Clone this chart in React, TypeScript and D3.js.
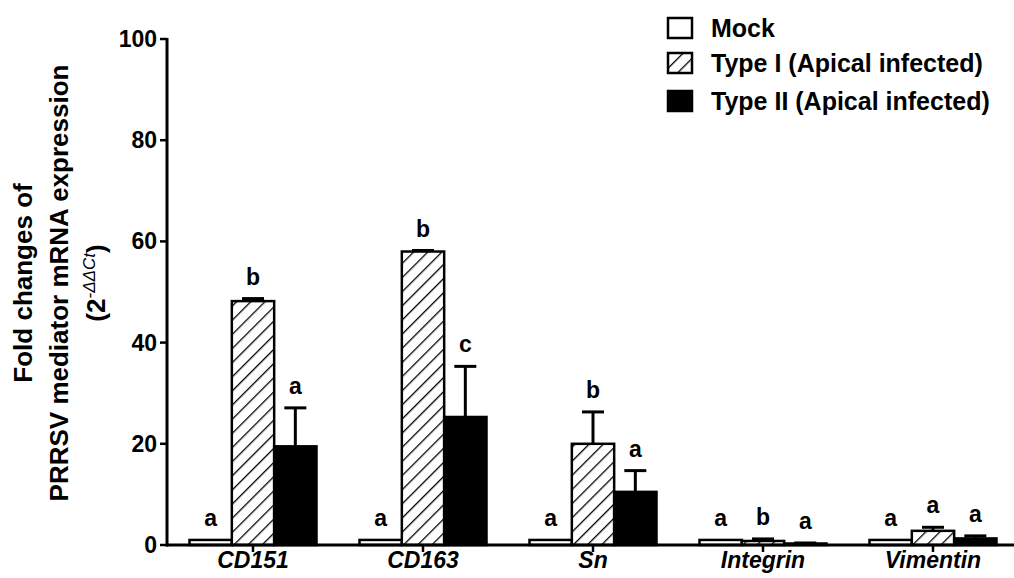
import React from "react";
import * as d3 from "d3";

const genes = ["CD151", "CD163", "Sn", "Integrin", "Vimentin"];
const seriesNames = ["Mock", "Type I (Apical infected)", "Type II (Apical infected)"];
const mockVals = [1, 1, 1, 1, 1];
const typeIVals = [48.2, 58.0, 20.0, 0.8, 2.8];
const typeIIVals = [19.5, 25.3, 10.5, 0.3, 1.3];
const mockErr = [0, 0, 0, 0, 0];
const typeIErr = [0.5, 0.2, 6.3, 0.4, 0.7];
const typeIIErr = [7.6, 10.0, 4.2, 0.1, 0.5];
const mockLetters = ["a", "a", "a", "a", "a"];
const typeILetters = ["b", "b", "b", "b", "a"];
const typeIILetters = ["a", "c", "a", "a", "a"];
const yTicks = [0, 20, 40, 60, 80, 100];

const W = 1014, H = 578;
const margin = { left: 167, right: 0, top: 39, bottom: 33 };

export default function App() {
  const x = d3.scaleBand().domain(genes).range([168, 1018]).paddingInner(0).paddingOuter(0);
  const y = d3.scaleLinear().domain([0, 100]).range([H - margin.bottom, margin.top]);
  const sub = d3.scaleBand().domain(seriesNames).range([0, 127]);
  const groupOff = (x.bandwidth() - 127) / 2;

  const series = [
    { name: seriesNames[0], vals: mockVals, err: mockErr, letters: mockLetters, fill: "white" },
    { name: seriesNames[1], vals: typeIVals, err: typeIErr, letters: typeILetters, fill: "url(#hatch)" },
    { name: seriesNames[2], vals: typeIIVals, err: typeIIErr, letters: typeIILetters, fill: "black" },
  ];

  const font = "'Liberation Sans', Arial, sans-serif";
  const titleLines = ["Fold changes of", "PRRSV mediator mRNA expression"];

  return (
    <svg width={W} height={H} style={{ position: "absolute", left: 0, top: 0, background: "white" }} fontFamily={font}>
      <defs>
        <pattern id="hatch" patternUnits="userSpaceOnUse" width="10" height="10" patternTransform="rotate(45)">
          <rect width="10" height="10" fill="white" />
          <line x1="0" y1="0" x2="0" y2="10" stroke="black" strokeWidth="2.6" />
        </pattern>
      </defs>

      {/* bars */}
      {series.map((s) =>
        genes.map((g, i) => {
          const bx = (x(g) as number) + groupOff + (sub(s.name) as number);
          const bw = sub.bandwidth();
          const top = y(s.vals[i]);
          const errTop = y(s.vals[i] + s.err[i]);
          const cx = bx + bw / 2;
          return (
            <g key={s.name + g}>
              {s.err[i] > 0 && (
                <g stroke="black" strokeWidth={3}>
                  <line x1={cx} x2={cx} y1={top} y2={errTop} />
                  <line x1={cx - 11} x2={cx + 11} y1={errTop} y2={errTop} />
                </g>
              )}
              <rect x={bx} y={top} width={bw} height={y(0) - top} fill={s.fill} stroke="black" strokeWidth={2.5} />
              <text x={cx} y={errTop - 14} textAnchor="middle" fontSize={23} fontWeight="bold">{s.letters[i]}</text>
            </g>
          );
        })
      )}

      {/* y axis */}
      <line x1={167} x2={167} y1={y(100) - 1} y2={y(0) + 1.5} stroke="black" strokeWidth={3} />
      {yTicks.map((t) => (
        <g key={t}>
          <line x1={160} x2={167} y1={y(t)} y2={y(t)} stroke="black" strokeWidth={2.5} />
          <text x={157} y={y(t) + 8} textAnchor="end" fontSize={23} fontWeight="bold">{t}</text>
        </g>
      ))}

      {/* x axis */}
      <line x1={166} x2={W} y1={y(0)} y2={y(0)} stroke="black" strokeWidth={3} />
      {genes.map((g) => {
        const cx = (x(g) as number) + x.bandwidth() / 2;
        return (
          <g key={g}>
            <line x1={cx} x2={cx} y1={y(0)} y2={y(0) + 7} stroke="black" strokeWidth={2.5} />
            <text x={cx} y={568} textAnchor="middle" fontSize={23} fontWeight="bold" fontStyle="italic">{g}</text>
          </g>
        );
      })}

      {/* y title */}
      <g transform="translate(32,283) rotate(-90)">
        <text x={0} y={0} textAnchor="middle" fontSize={26} fontWeight="bold">{titleLines[0]}</text>
        <text x={0} y={36} textAnchor="middle" fontSize={26} fontWeight="bold">{titleLines[1]}</text>
        <text x={0} y={73} textAnchor="middle" fontSize={26} fontWeight="bold">
          (2<tspan dy={-10} fontSize={17} fontWeight="normal" fontStyle="italic">-ΔΔCt</tspan><tspan dy={10}>)</tspan>
        </text>
      </g>

      {/* legend */}
      {series.map((s, i) => {
        const ly = [28, 63, 101][i];
        return (
          <g key={s.name}>
            <rect x={668} y={ly - 10} width={24} height={20} fill={s.fill} stroke="black" strokeWidth={2.5} />
            <text x={711} y={ly + 9} fontSize={25} fontWeight="bold">{s.name}</text>
          </g>
        );
      })}
    </svg>
  );
}
